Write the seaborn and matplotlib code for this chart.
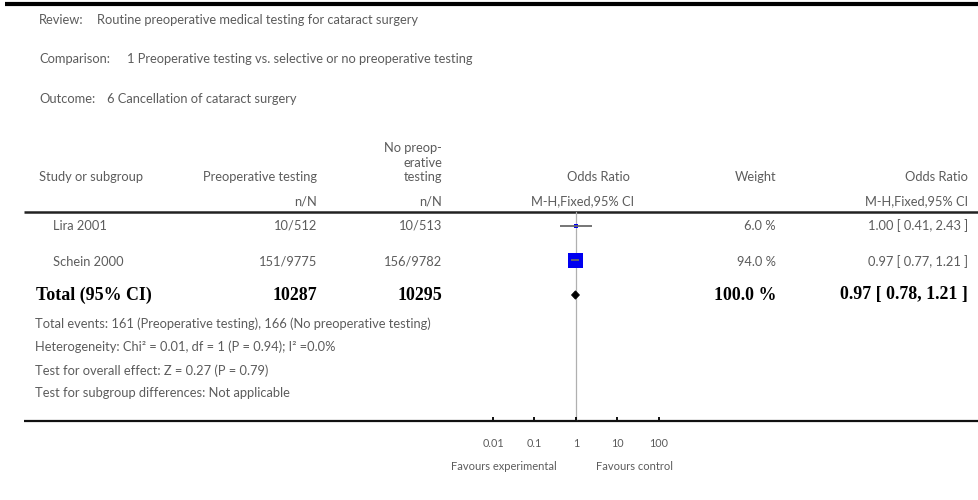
import numpy as np
import pandas as pd
import matplotlib
matplotlib.use("Agg")
import matplotlib.pyplot as plt
from matplotlib.patches import Polygon
import seaborn as sns

# ---- data -------------------------------------------------------------
studies = ["Lira 2001", "Schein 2000"]
events_pre = ["10/512", "151/9775"]
events_none = ["10/513", "156/9782"]
weights = [6.0, 94.0]
odds_ratio = [1.00, 0.97]
ci_low = [0.41, 0.77]
ci_high = [2.43, 1.21]

total_pre = 10287
total_none = 10295
total_weight = 100.0
total_or = 0.97
total_low = 0.78
total_high = 1.21

axis_ticks = [0.01, 0.1, 1, 10, 100]
axis_tick_labels = ["0.01", "0.1", "1", "10", "100"]

review = "Routine preoperative medical testing for cataract surgery"
comparison = "1 Preoperative testing vs. selective or no preoperative testing"
outcome = "6 Cancellation of cataract surgery"
footer_lines = [
    "Total events: 161 (Preoperative testing), 166 (No preoperative testing)",
    "Heterogeneity: Chi\u00b2 = 0.01, df = 1 (P = 0.94); I\u00b2 =0.0%",
    "Test for overall effect: Z = 0.27 (P = 0.79)",
    "Test for subgroup differences: Not applicable",
]

df = pd.DataFrame({
    "study": studies,
    "row": np.arange(len(studies)),
    "weight": weights,
    "or": odds_ratio,
    "lo": ci_low,
    "hi": ci_high,
})

# ---- style ------------------------------------------------------------
sns.set_theme(style="white")
plt.rcParams["font.family"] = ["Lato", "DejaVu Sans"]
GREY = "#5c5c5c"
FS = 9.3
SERIF = ["Liberation Serif", "DejaVu Serif"]

W, H = 979, 500
fig = plt.figure(figsize=(W / 100, H / 100), dpi=100)

# page layer in pixel units for the table text and rules
page = fig.add_axes([0, 0, 1, 1])
page.set_xlim(0, W)
page.set_ylim(H, 0)
page.axis("off")


def txt(x, y, s, ha="left", **kw):
    opts = dict(fontsize=FS, color=GREY, ha=ha, va="center")
    opts.update(kw)
    page.text(x, y, s, **opts)


# title block
txt(39, 20, "Review:")
txt(97, 20, review)
txt(39, 59, "Comparison:")
txt(127, 59, comparison)
txt(39, 99, "Outcome:")
txt(107, 99, outcome)

# column headers
txt(39, 177, "Study or subgroup")
txt(317, 177, "Preoperative testing", ha="right")
txt(442, 148, "No preop-", ha="right")
txt(442, 163, "erative", ha="right")
txt(442, 177, "testing", ha="right")
txt(598, 177, "Odds Ratio", ha="center")
txt(776, 177, "Weight", ha="right")
txt(968, 177, "Odds Ratio", ha="right")
txt(317, 201, "n/N", ha="right")
txt(442, 201, "n/N", ha="right")
txt(583, 201, "M-H,Fixed,95% CI", ha="center")
txt(968, 201, "M-H,Fixed,95% CI", ha="right")

# rules
page.plot([5, W], [4, 4], color="black", lw=3.0, solid_capstyle="butt")
page.plot([24, W], [212, 212], color="#222222", lw=1.8, solid_capstyle="butt")
page.plot([24, W], [421, 421], color="#111111", lw=1.6, solid_capstyle="butt")

# study rows
row_y = [226, 262]
for y, name, ep, en, w, o, lo, hi in zip(row_y, studies, events_pre, events_none,
                                         weights, odds_ratio, ci_low, ci_high):
    txt(53, y, name)
    txt(317, y, ep, ha="right")
    txt(442, y, en, ha="right")
    txt(776, y, f"{w:.1f} %", ha="right")
    txt(968, y, f"{o:.2f} [ {lo:.2f}, {hi:.2f} ]", ha="right")

# total row
ty = 295
bold = dict(color="black", fontweight="bold", fontsize=12.9, family=SERIF)
txt(36, ty, "Total (95% CI)", **bold)
txt(317, ty, f"{total_pre}", ha="right", **bold)
txt(442, ty, f"{total_none}", ha="right", **bold)
txt(776, ty, f"{total_weight:.1f} %", ha="right", **bold)
txt(968, ty, f"{total_or:.2f} [ {total_low:.2f}, {total_high:.2f} ]", ha="right", **bold)

# footer statistics
for y, line in zip([324, 347, 371, 393], footer_lines):
    txt(35, y, line)

txt(504, 466, "Favours experimental", ha="center", fontsize=8.0)
txt(635, 466, "Favours control", ha="center", fontsize=8.0)

# ---- forest panel -----------------------------------------------------
x0, x1 = 493, 659
y_top, y_bot = 212, 421
ax = fig.add_axes([x0 / W, 1 - y_bot / H, (x1 - x0) / W, (y_bot - y_top) / H])
ax.patch.set_alpha(0)
ax.set_xscale("log")
ax.set_xlim(axis_ticks[0], axis_ticks[-1])
step = 34.5
ax.set_ylim((y_bot - row_y[0]) / step, -(row_y[0] - y_top) / step)
for sp in ax.spines.values():
    sp.set_visible(False)

ax.axvline(1, color="#b0b0b0", lw=0.9, zorder=0)

# confidence intervals
ax.hlines(df["row"], df["lo"], df["hi"], color="#6a6a6a", lw=1.3, zorder=3)

# weighted squares
sns.scatterplot(data=df, x="or", y="row", size="weight", sizes=(11, 118),
                marker="s", color="#0000f0", edgecolor="none", legend=False,
                ax=ax, zorder=2)

# pooled estimate diamond
trow = (ty - row_y[0]) / step
hh = 0.12
ax.add_patch(Polygon([[total_low, trow], [total_or, trow - hh],
                      [total_high, trow], [total_or, trow + hh]],
                     closed=True, facecolor="black", edgecolor="black", lw=0.6))

ax.set_xticks(axis_ticks)
ax.set_xticklabels(axis_tick_labels)
ax.minorticks_off()
ax.tick_params(axis="x", direction="in", length=3, width=1.4, color="#111111",
               labelsize=7.8, labelcolor=GREY, pad=12, bottom=True)
ax.set_yticks([])
ax.set_xlabel("")
ax.set_ylabel("")

fig.savefig("out.png", dpi=100)
